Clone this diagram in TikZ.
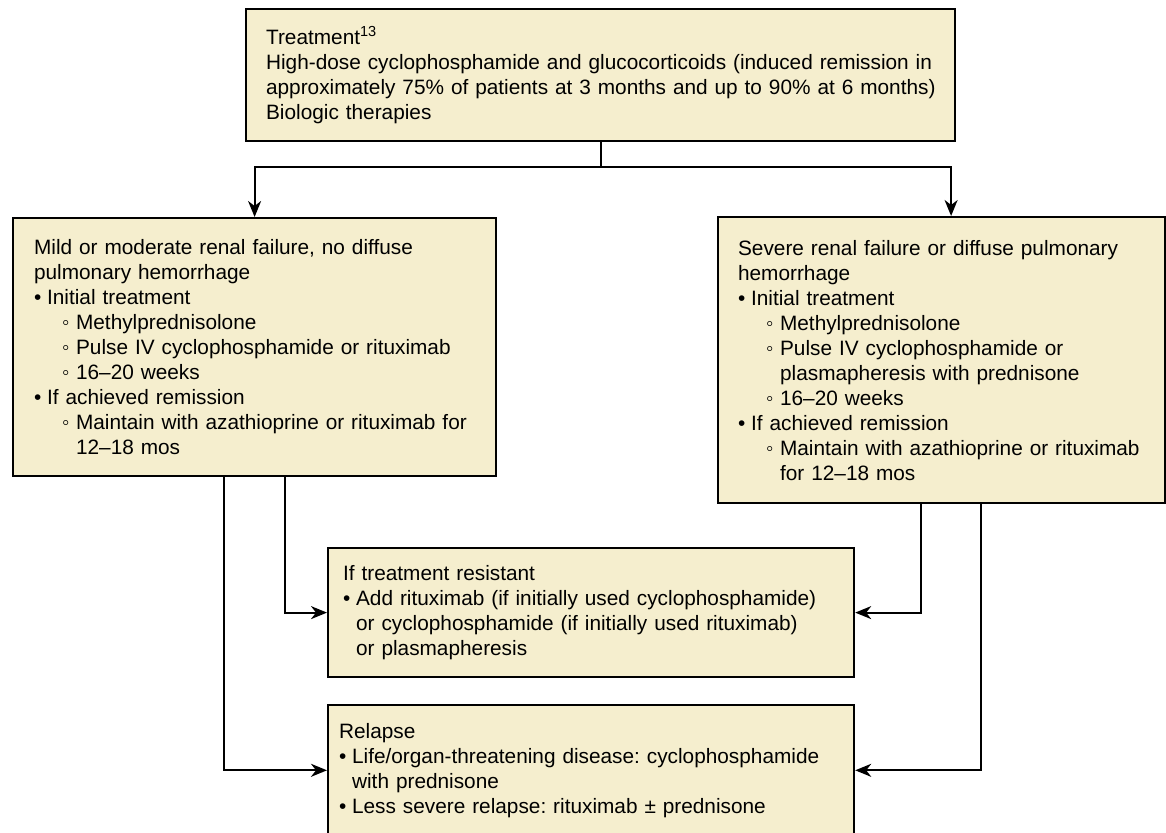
\documentclass[tikz,border=0pt]{standalone}
\usepackage{fontspec}
\setmainfont{Liberation Sans}
\usetikzlibrary{arrows.meta}

\definecolor{boxfill}{RGB}{245,238,206}

% list marks with hanging indent
\newcommand{\bitem}{\par\hangindent=6.5pt\hangafter=1\makebox[6.5pt][l]{•}}
\newcommand{\sitem}{\par\hangindent=21pt\hangafter=1\hspace*{14pt}\makebox[7pt][l]{◦}}

\begin{document}
\frenchspacing
\begin{tikzpicture}[
    x=0.5pt,y=-0.5pt,
    box/.style={draw,black,line width=1.1pt,fill=boxfill,anchor=north west,
      align=left,inner xsep=3pt,inner ysep=2pt,
      font=\fontsize{10.4}{12.5}\selectfont},
    indent/.style={execute at begin node={\leftskip=#1}},
    link/.style={line width=1pt,-{Stealth[length=8pt,width=6.5pt,inset=2.5pt]}}
    ]
  \useasboundingbox (0,0) rectangle (1166,832);

  \node[box,indent=7pt,text width=348.5pt,minimum height=66pt] (treat) at (245,8)
    {Treatment\textsuperscript{13}\newline
     High-dose cyclophosphamide and glucocorticoids (induced remission in\newline
     approximately 75\% of patients at 3 months and up to 90\% at 6 months)\newline
     Biologic therapies};

  \node[box,indent=7.5pt,text width=235.5pt,minimum height=129pt] (mild) at (12,217)
    {Mild or moderate renal failure, no diffuse\newline pulmonary hemorrhage
     \bitem Initial treatment
     \sitem Methylprednisolone
     \sitem Pulse IV cyclophosphamide or rituximab
     \sitem 16–20 weeks
     \bitem If achieved remission
     \sitem Maintain with azathioprine or rituximab for\newline 12–18 mos\par};

  \node[box,indent=7pt,text width=217.5pt,minimum height=143pt] (severe) at (717,216)
    {Severe renal failure or diffuse pulmonary\newline hemorrhage
     \bitem Initial treatment
     \sitem Methylprednisolone
     \sitem Pulse IV cyclophosphamide or\newline plasmapheresis with prednisone
     \sitem 16–20 weeks
     \bitem If achieved remission
     \sitem Maintain with azathioprine or rituximab\newline for 12–18 mos\par};

  \node[box,indent=4.5pt,text width=257pt,minimum height=64.5pt] (resist) at (327,547)
    {If treatment resistant
     \bitem Add rituximab (if initially used cyclophosphamide)\newline
       or cyclophosphamide (if initially used rituximab)\newline
       or plasmapheresis\par};

  % runs past the lower edge
  \node[box,indent=2.5pt,text width=257pt,inner ysep=9pt] (relapse) at (327,704)
    {Relapse
     \bitem Life/organ-threatening disease: cyclophosphamide\newline with prednisone
     \bitem Less severe relapse: rituximab ± prednisone\par};

  % split below the first box
  \coordinate (split) at ([yshift=-12.5pt]treat.south);
  \draw[line width=1pt] (treat.south) -- (split);
  \draw[link] (split) -| (mild.north);
  \draw[link] (split) -| ([xshift=4.75pt]severe.north);

  % down to resistant / relapse
  \draw[link] ([xshift=15.25pt]mild.south) |- (resist.west);
  \draw[link] ([xshift=-15.25pt]mild.south) |- (relapse.west);
  \draw[link] ([xshift=-10.25pt]severe.south) |- (resist.east);
  \draw[link] ([xshift=19.75pt]severe.south) |- (relapse.east);
\end{tikzpicture}
\end{document}
